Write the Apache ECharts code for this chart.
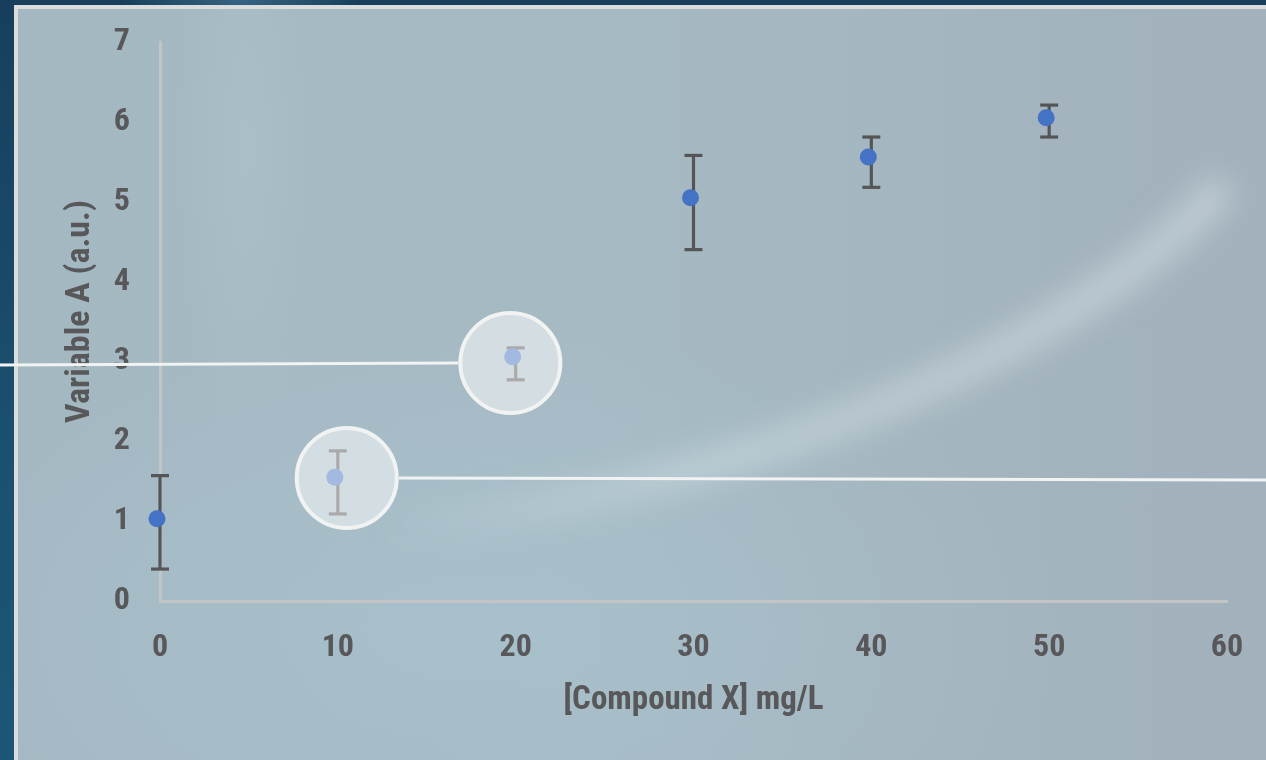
<!DOCTYPE html>
<html>
<head>
<meta charset="utf-8">
<script src="https://cdn.jsdelivr.net/npm/echarts@6/dist/echarts.min.js"></script>
<style>
  html, body { margin: 0; padding: 0; width: 1266px; height: 760px; overflow: hidden; }
  body {
    background:
      radial-gradient(ellipse 120px 40px at 240px 0px, rgba(80,130,160,0.55), rgba(80,130,160,0) 100%),
      linear-gradient(180deg, #173f5d 0%, #1b5070 60%, #1c5676 100%);
    position: relative;
  }
  #panel {
    position: absolute; left: 14px; top: 5px; width: 1270px; height: 770px;
    box-sizing: border-box; border: 4px solid #dadcdd;
    background:
      radial-gradient(ellipse 70px 320px at 228px 140px, rgba(185,205,215,0.28), rgba(185,205,215,0) 100%),
      radial-gradient(ellipse 600px 300px at 450px 620px, rgba(170,200,212,0.45), rgba(170,200,212,0) 100%),
      linear-gradient(90deg, #a4b8c2 0%, #a6bac4 45%, #a4b5bf 75%, #a2b1bc 100%);
    overflow: hidden;
  }
  #glow { position: absolute; left: -18px; top: -9px; width: 1266px; height: 760px; }
  #chart { position: absolute; left: 0; top: 0; width: 1266px; height: 760px; }
</style>
</head>
<body>
<div id="panel">
  <svg id="glow" width="1266" height="760" xmlns="http://www.w3.org/2000/svg">
    <defs>
      <filter id="soft" x="-20%" y="-20%" width="140%" height="140%">
        <feGaussianBlur stdDeviation="14"/>
      </filter>
      <linearGradient id="fade" x1="380" y1="0" x2="1220" y2="0" gradientUnits="userSpaceOnUse">
        <stop offset="0" stop-color="#dfe8ec" stop-opacity="0"/>
        <stop offset="0.35" stop-color="#dfe8ec" stop-opacity="0.35"/>
        <stop offset="1" stop-color="#dfe8ec" stop-opacity="0.45"/>
      </linearGradient>
    </defs>
    <path d="M 380 528 C 740 495, 1080 345, 1215 195" fill="none" stroke="url(#fade)" stroke-width="34" stroke-linecap="round" filter="url(#soft)"/>
  </svg>
</div>
<div id="chart"></div>
<script>
// Concentration of compound X (mg/L)
const concentration = [0, 10, 20, 30, 40, 50];
// Mean response of variable A
const meanA = [1.03, 1.55, 3.06, 5.05, 5.56, 6.05];
// Lower and upper ends of the error bars
const lowA  = [0.40, 1.09, 2.77, 4.40, 5.18, 5.81];
const highA = [1.57, 1.88, 3.17, 5.58, 5.81, 6.21];
// Points called out with a circle (indices into the arrays above)
const calloutIndex = [1, 2];

const FONT = '"Liberation Sans Narrow", "Roboto Condensed", "DejaVu Sans Condensed", "Roboto", sans-serif';
const TEXT = '#58585a';

const chart = echarts.init(document.getElementById('chart'), null, { renderer: 'canvas' });

const points = concentration.map((x, i) => [x, meanA[i]]);
const bars = concentration.map((x, i) => [x, lowA[i], highA[i]]);

chart.setOption({
  backgroundColor: 'transparent',
  animation: false,
  grid: { left: 160, right: 39, top: 42, bottom: 159, containLabel: false },
  xAxis: {
    type: 'value', min: 0, max: 60, interval: 10,
    name: '[Compound X] mg/L', nameLocation: 'middle', nameGap: 83,
    nameTextStyle: { fontFamily: FONT, fontSize: 33, fontWeight: 'bold', color: TEXT },
    axisLine: { show: true, onZero: false, lineStyle: { color: '#c2c4c5', width: 3 } },
    axisTick: { show: false },
    splitLine: { show: false },
    axisLabel: { margin: 31, fontFamily: FONT, fontSize: 32, fontWeight: 'bold', color: TEXT }
  },
  yAxis: {
    type: 'value', min: 0, max: 7, interval: 1,
    name: 'Variable A (a.u.)', nameLocation: 'middle', nameGap: 63, nameRotate: 90,
    nameTextStyle: { fontFamily: FONT, fontSize: 34, fontWeight: 'bold', color: TEXT, padding: [0, 0, 0, 20] },
    axisLine: { show: true, onZero: false, lineStyle: { color: '#c2c4c5', width: 3 } },
    axisTick: { show: false },
    splitLine: { show: false },
    axisLabel: { margin: 30, fontFamily: FONT, fontSize: 32, fontWeight: 'bold', color: TEXT }
  },
  series: [
    {
      type: 'custom',
      name: 'error',
      data: bars,
      z: 2,
      renderItem: function (params, api) {
        const x = api.value(0);
        const lo = api.coord([x, api.value(1)]);
        const hi = api.coord([x, api.value(2)]);
        const cx = lo[0];
        const half = 9;
        const style = { stroke: '#555557', lineWidth: 3.2, fill: null };
        return {
          type: 'group',
          children: [
            { type: 'line', shape: { x1: cx, y1: lo[1], x2: cx, y2: hi[1] }, style: style },
            { type: 'line', shape: { x1: cx - half, y1: lo[1], x2: cx + half, y2: lo[1] }, style: style },
            { type: 'line', shape: { x1: cx - half, y1: hi[1], x2: cx + half, y2: hi[1] }, style: style }
          ]
        };
      }
    },
    {
      type: 'scatter',
      name: 'Variable A',
      data: points,
      z: 3,
      symbol: 'circle',
      symbolSize: 17,
      symbolOffset: [-3, 0],
      itemStyle: { color: '#4472c4', opacity: 1 }
    }
  ]
});

// Call-out circles over two points, each with a leader line running to the page edge
function drawCallouts() {
  const W = 1266;
  const c1 = chart.convertToPixel({ gridIndex: 0 }, [concentration[calloutIndex[0]] + 0.5, meanA[calloutIndex[0]] - 0.01]);
  const c2 = chart.convertToPixel({ gridIndex: 0 }, [concentration[calloutIndex[1]] - 0.3, meanA[calloutIndex[1]] - 0.08]);
  const R = 50;
  const ring = { fill: 'rgba(255,255,255,0.5)', stroke: '#f1f2f2', lineWidth: 4 };
  const lead = { stroke: '#f1f2f2', lineWidth: 3 };
  chart.setOption({
    graphic: [
      {
        type: 'line', z: 100, silent: true,
        shape: { x1: c1[0] + R + 2, y1: c1[1], x2: W, y2: c1[1] + 2 },
        style: lead
      },
      {
        type: 'line', z: 100, silent: true,
        shape: { x1: 0, y1: c2[1] + 2, x2: c2[0] - R - 2, y2: c2[1] },
        style: lead
      },
      {
        type: 'circle', z: 100, silent: true,
        shape: { cx: c1[0], cy: c1[1], r: R },
        style: ring
      },
      {
        type: 'circle', z: 100, silent: true,
        shape: { cx: c2[0], cy: c2[1], r: R },
        style: ring
      }
    ]
  });
}
drawCallouts();
</script>
</body>
</html>
